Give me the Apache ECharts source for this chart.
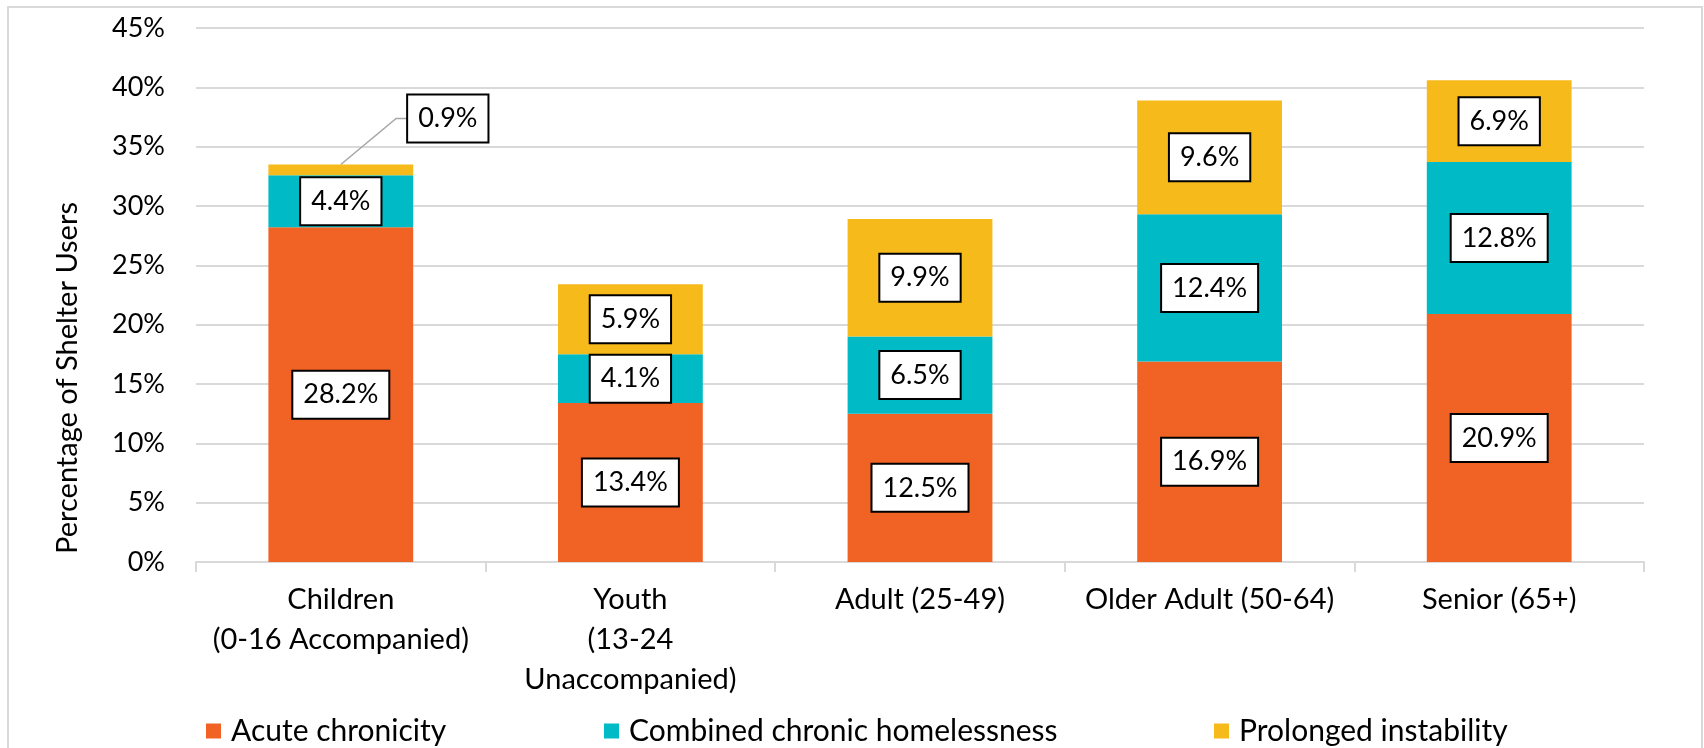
<!DOCTYPE html>
<html>
<head>
<meta charset="utf-8">
<script src="https://cdn.jsdelivr.net/npm/echarts@6/dist/echarts.min.js"></script>
<style>
  html, body { margin: 0; padding: 0; background: #ffffff; }
  #chart { width: 1704px; height: 748px; }
</style>
</head>
<body>
<div id="chart"></div>
<script>
// Age groups along the x axis
const categories = [
  'Children\n(0-16 Accompanied)',
  'Youth\n(13-24\nUnaccompanied)',
  'Adult (25-49)',
  'Older Adult (50-64)',
  'Senior (65+)'
];

// Share of shelter users (%) per chronicity type, stacked per age group
const acuteChronicity      = [28.2, 13.4, 12.5, 16.9, 20.9];
const combinedChronic      = [4.4, 4.1, 6.5, 12.4, 12.8];
const prolongedInstability = [0.9, 5.9, 9.9, 9.6, 6.9];

const seriesNames = ['Acute chronicity', 'Combined chronic homelessness', 'Prolonged instability'];
const seriesColors = ['#F16324', '#00BAC6', '#F7BA1B'];

const yAxisTitle = 'Percentage of Shelter Users';

const FONT = 'Lato';
const FS_NUM = 27;     // tick values and value boxes
const FS_TEXT = 29;    // category names
const FS_LEGEND = 30;  // legend entries
const FS_TITLE = 29;   // y axis title

const LABEL_PAD = [8, 10, 8, 10];
const LABEL_LH = 30;

const boxLabel = {
  show: true,
  position: 'inside',
  formatter: p => p.value.toFixed(1) + '%',
  fontFamily: FONT,
  fontSize: FS_NUM,
  color: '#000',
  backgroundColor: '#ffffff',
  borderColor: '#000000',
  borderWidth: 2,
  padding: LABEL_PAD,
  lineHeight: LABEL_LH
};

function makeSeries(name, values, color) {
  return {
    name: name,
    type: 'bar',
    stack: 'total',
    barWidth: '50%',
    itemStyle: { color: color },
    label: boxLabel,
    emphasis: { disabled: true },
    data: values.slice(),
    z: 2
  };
}

const series = [
  makeSeries(seriesNames[0], acuteChronicity, seriesColors[0]),
  makeSeries(seriesNames[1], combinedChronic, seriesColors[1]),
  makeSeries(seriesNames[2], prolongedInstability, seriesColors[2])
];

// The thin top segment of the first stack gets its label pulled out beside it
const CALLOUT_INDEX = 0;
const CALLOUT_DIST = 4;
const CALLOUT_DX = 107;
const CALLOUT_DY = -19;
series[2].data = prolongedInstability.map((v, i) => i === CALLOUT_INDEX
  ? { value: v, label: { position: 'top', distance: CALLOUT_DIST } }
  : v);
series[2].labelLayout = function (p) {
  if (p.dataIndex === CALLOUT_INDEX) return { dx: CALLOUT_DX, dy: CALLOUT_DY };
  return {};
};

const chart = echarts.init(document.getElementById('chart'), null, { renderer: 'canvas' });

const legendLefts = [206, 604, 1214];

chart.setOption({
  animation: false,
  backgroundColor: '#ffffff',
  textStyle: { fontFamily: FONT },
  grid: { left: 196, right: 60, top: 28, bottom: 186, containLabel: false },
  legend: seriesNames.map((n, i) => ({
    data: [n],
    left: legendLefts[i],
    top: 716,
    icon: 'rect',
    itemWidth: 15,
    itemHeight: 15,
    padding: 0,
    selectedMode: false,
    textStyle: { fontFamily: FONT, fontSize: FS_LEGEND, color: '#000', lineHeight: 30, padding: [0, 0, 0, 5] }
  })),
  xAxis: {
    type: 'category',
    data: categories,
    axisLine: { lineStyle: { color: '#D9D9D9', width: 2 } },
    axisTick: { show: true, length: 10, lineStyle: { color: '#D9D9D9', width: 2 } },
    axisLabel: {
      fontFamily: FONT, fontSize: FS_TEXT, color: '#000', lineHeight: 40, margin: 18,
      interval: 0
    }
  },
  yAxis: {
    type: 'value',
    min: 0,
    max: 45,
    interval: 5,
    axisLine: { show: false },
    axisTick: { show: false },
    splitLine: { lineStyle: { color: '#D9D9D9', width: 2 } },
    axisLabel: {
      fontFamily: FONT, fontSize: FS_NUM, color: '#000', margin: 31,
      formatter: v => v + '%'
    }
  },
  graphic: [
    {
      id: 'frame',
      type: 'rect',
      shape: { x: 8, y: 7, width: 1694, height: 760 },
      style: { fill: 'none', stroke: '#D9D9D9', lineWidth: 2 },
      silent: true, z: -1
    },
    {
      id: 'yTitle',
      type: 'text',
      x: 68, y: 378,
      rotation: Math.PI / 2,
      style: {
        text: yAxisTitle,
        fontFamily: FONT, fontSize: FS_TITLE, fill: '#000',
        align: 'center', verticalAlign: 'middle'
      },
      silent: true
    }
  ],
  series: series
});

// Leader line from the top of the first stack to its pulled-out label
(function drawLeader() {
  const total = acuteChronicity[CALLOUT_INDEX] + combinedChronic[CALLOUT_INDEX] + prolongedInstability[CALLOUT_INDEX];
  const anchor = chart.convertToPixel({ xAxisIndex: 0, yAxisIndex: 0 }, [CALLOUT_INDEX, total]);
  const ctx = document.createElement('canvas').getContext('2d');
  ctx.font = FS_NUM + 'px ' + FONT;
  const text = prolongedInstability[CALLOUT_INDEX].toFixed(1) + '%';
  const boxW = ctx.measureText(text).width + LABEL_PAD[1] + LABEL_PAD[3];
  const boxH = LABEL_LH + LABEL_PAD[0] + LABEL_PAD[2];
  const boxLeft = anchor[0] + CALLOUT_DX - boxW / 2;
  const boxMidY = anchor[1] - CALLOUT_DIST - boxH / 2 + CALLOUT_DY;
  chart.setOption({
    graphic: [
      {
        id: 'leader',
        type: 'polyline',
        shape: { points: [[anchor[0], anchor[1]], [boxLeft - 12, boxMidY], [boxLeft - 1, boxMidY]] },
        style: { stroke: '#A6A6A6', lineWidth: 1.5, fill: null },
        silent: true, z: 1
      }
    ]
  });
})();
</script>
</body>
</html>
